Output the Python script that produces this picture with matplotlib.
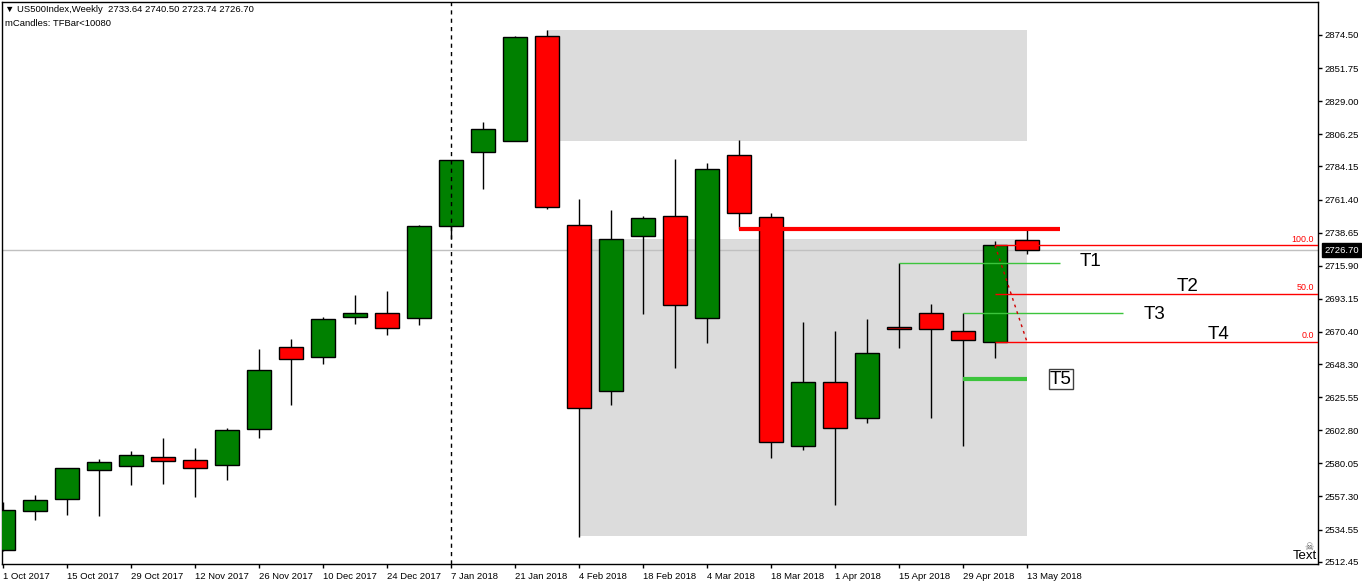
import matplotlib
matplotlib.use('Agg')
import matplotlib.pyplot as plt
from matplotlib.patches import Rectangle
import matplotlib.transforms as mtransforms

plt.rcParams['font.family'] = ['Liberation Sans', 'DejaVu Sans']

# ---------------- data ----------------
dates = ['1 Oct 2017', '8 Oct 2017', '15 Oct 2017', '22 Oct 2017', '29 Oct 2017',
         '5 Nov 2017', '12 Nov 2017', '19 Nov 2017', '26 Nov 2017', '3 Dec 2017',
         '10 Dec 2017', '17 Dec 2017', '24 Dec 2017', '31 Dec 2017', '7 Jan 2018',
         '14 Jan 2018', '21 Jan 2018', '28 Jan 2018', '4 Feb 2018', '11 Feb 2018',
         '18 Feb 2018', '25 Feb 2018', '4 Mar 2018', '11 Mar 2018', '18 Mar 2018',
         '25 Mar 2018', '1 Apr 2018', '8 Apr 2018', '15 Apr 2018', '22 Apr 2018',
         '29 Apr 2018', '6 May 2018', '13 May 2018']
opens = [2520.5, 2547.1, 2555.3, 2575.7, 2578.4, 2584.4, 2582.2, 2578.7, 2603.5, 2659.8,
         2653.0, 2680.5, 2683.4, 2679.8, 2743.1, 2794.4, 2801.4, 2873.7, 2744.2, 2630.1,
         2736.1, 2749.8, 2680.3, 2791.9, 2749.2, 2591.8, 2635.8, 2611.0, 2673.6, 2683.2,
         2670.8, 2663.3, 2733.64]
highs = [2553.5, 2558.3, 2577.0, 2583.0, 2588.5, 2597.7, 2590.6, 2604.4, 2658.7, 2665.5,
         2680.7, 2695.8, 2698.5, 2743.9, 2788.6, 2814.6, 2873.9, 2877.9, 2761.6, 2754.2,
         2750.1, 2789.3, 2786.5, 2802.3, 2751.9, 2677.2, 2671.0, 2679.3, 2717.6, 2689.6,
         2683.2, 2732.9, 2740.50]
lows = [2519.8, 2541.3, 2544.8, 2544.1, 2565.4, 2566.1, 2557.1, 2568.8, 2597.7, 2620.4,
        2648.6, 2676.1, 2668.5, 2675.4, 2734.3, 2768.9, 2801.4, 2755.2, 2529.7, 2620.4,
        2682.9, 2645.7, 2662.9, 2740.9, 2583.9, 2589.4, 2551.6, 2608.0, 2659.6, 2611.4,
        2592.2, 2652.7, 2723.74]
closes = [2548.0, 2554.9, 2576.7, 2581.0, 2585.8, 2581.9, 2577.1, 2602.8, 2644.2, 2651.6,
          2679.1, 2683.4, 2672.9, 2743.2, 2788.4, 2810.2, 2873.0, 2756.1, 2617.8, 2734.0,
          2748.4, 2688.7, 2782.1, 2751.9, 2594.5, 2635.8, 2604.2, 2655.7, 2672.2, 2672.2,
          2664.6, 2729.9, 2726.70]

price_ticks = [2874.50, 2851.75, 2829.00, 2806.25, 2784.15, 2761.40, 2738.65, 2715.90,
               2693.15, 2670.40, 2648.30, 2625.55, 2602.80, 2580.05, 2557.30, 2534.55, 2512.45]
date_tick_idx = list(range(0, 33, 2))
current_price = 2726.70

# zones  (start index, end index, low price, high price)
zone_upper = (17, 32, 2801.8, 2877.9)
zone_lower = (18, 32, 2530.2, 2734.3)
# lines
resist_line = (23, 33.03, 2740.9)
t1_line = (28, 33.03, 2717.6)
t3_line = (30, 35.0, 2683.2)
t5_line = (30, 32, 2638.2)
fib_start = 31
fib_levels = [('100.0', 2729.9), ('50.0', 2696.7), ('0.0', 2663.5)]
labels_T = [('T1', 33.66, 2719.1), ('T2', 36.69, 2701.5), ('T3', 35.66, 2682.7),
            ('T4', 37.66, 2668.3)]
label_T5 = ('T5', 32.72, 2637.7)

# ---------------- figure ----------------
W, H = 1362, 585
fig = plt.figure(figsize=(W / 100, H / 100), dpi=100)
ax = fig.add_axes([2 / W, 1 - 564 / H, 1316 / W, 562 / H])
ax.set_xlim(-1 / 32, 1315 / 32)
ax.set_ylim(2510.86, 2897.18)

GREEN = '#008000'
RED = '#ff0000'
ZONE = '#dcdcdc'
LIME = '#3cc43c'

# zones
for (i0, i1, lo, hi) in (zone_upper, zone_lower):
    ax.add_patch(Rectangle((i0, lo), i1 - i0, hi - lo, facecolor=ZONE, edgecolor='none', zorder=0))

# current price line
ax.axhline(current_price, color='#c0c0c0', lw=1, zorder=1)

# candles
bw = 0.75
for i in range(len(opens)):
    o, h, l, c = opens[i], highs[i], lows[i], closes[i]
    col = GREEN if c >= o else RED
    ax.vlines(i, l, h, color='black', lw=1, zorder=2)
    ax.add_patch(Rectangle((i - bw / 2, min(o, c)), bw, abs(c - o), facecolor=col,
                           edgecolor='black', lw=1, zorder=3))

# vertical dashed separator
ax.axvline(14, color='black', lw=1, ls=(0, (3, 3)), zorder=5)

# resistance line
ax.hlines(resist_line[2], resist_line[0], resist_line[1], color=RED, lw=3, zorder=6)
# target lines
ax.hlines(t1_line[2], t1_line[0], t1_line[1], color=LIME, lw=1, zorder=6)
ax.hlines(t3_line[2], t3_line[0], t3_line[1], color=LIME, lw=1, zorder=6)
ax.hlines(t5_line[2], t5_line[0], t5_line[1], color=LIME, lw=3, zorder=6)

# fibonacci
xr = ax.get_xlim()[1]
for name, lvl in fib_levels:
    ax.hlines(lvl, fib_start, xr, color=RED, lw=1, zorder=6)
    ax.text(xr - 0.12, lvl + 1.2, name, color=RED, fontsize=6.4, ha='right', va='bottom', zorder=7)
ax.plot([fib_start, fib_start + 1], [fib_levels[0][1], fib_levels[2][1]], color='#d00000',
        lw=1, ls=(0, (2, 3)), zorder=6)

# T labels
for name, x, y in labels_T:
    ax.text(x, y, name, fontsize=13.5, ha='left', va='center', color='black', zorder=8)
ax.text(label_T5[1], label_T5[2], label_T5[0], fontsize=13.5, ha='left', va='center', color='black',
        zorder=8, bbox=dict(boxstyle='square,pad=0.08', facecolor='white', edgecolor='#404040', lw=1))

# axes styling
for s in ax.spines.values():
    s.set_color('black')
    s.set_linewidth(1)
ax.yaxis.tick_right()
ax.set_yticks(price_ticks)
ax.set_yticklabels([f'{p:.2f}' for p in price_ticks])
ax.set_xticks(date_tick_idx)
ax.set_xticklabels([dates[i] for i in date_tick_idx], ha='left')
ax.tick_params(axis='both', direction='out', length=3, width=1, color='black',
               labelsize=6.8, pad=2)
ax.tick_params(axis='x', pad=3)

# current price tag
trans = mtransforms.blended_transform_factory(ax.transAxes, ax.transData)
ax.text(1.0 + 6 / 1316, current_price, f'{current_price:.2f}', transform=trans, color='white',
        fontsize=6.8, ha='left', va='center', zorder=10, clip_on=False,
        bbox=dict(boxstyle='square,pad=0.25', facecolor='black', edgecolor='black'))

# header text
fig.text(5 / W, 1 - 10 / H, '\u25bc US500Index,Weekly  2733.64 2740.50 2723.74 2726.70',
         fontsize=6.8, ha='left', va='center')
fig.text(5 / W, 1 - 23 / H, 'mCandles: TFBar<10080', fontsize=6.8, ha='left', va='center')

# bottom-right "Text" object
fig.text(1317 / W, 1 - 556 / H, 'Text', fontsize=9.5, ha='right', va='center')
fig.text(1309 / W, 1 - 547 / H, '\u2620', fontsize=7.5, ha='center', va='center', color='#606060',
         family=['DejaVu Sans'])

fig.savefig('out.png', dpi=100)
